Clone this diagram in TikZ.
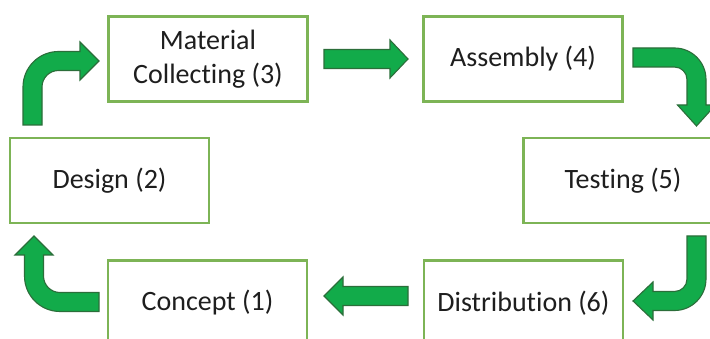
\documentclass[tikz,border=0pt]{standalone}
\usepackage{fontspec}
\setmainfont{Carlito}[Ligatures=NoCommon]
\definecolor{boxgreen}{HTML}{7DB456}
\definecolor{arrowfill}{HTML}{12AB4A}
\definecolor{arrowline}{HTML}{2B6E3A}
\definecolor{txt}{HTML}{1E1E1E}
\begin{document}
\begin{tikzpicture}[x=1pt,y=-1pt,
  stage/.style={draw=boxgreen, line width=2.5pt, fill=white, minimum width=199pt, minimum height=85pt,
    inner sep=0pt, align=center, text=txt, font=\fontsize{28}{34}\selectfont},
  bigarrow/.style={fill=arrowfill, draw=arrowline, line width=1.1pt, line join=miter}]
\useasboundingbox (0,0) rectangle (710,339);
\clip (0,0) rectangle (710,339);
\fill[white] (0,0) rectangle (710,339);
% stages
\node[stage] (mat) at (208,59) {Material\\Collecting (3)};
\node[stage] (asm) at (523,59) {Assembly (4)};
\node[stage] (des) at (109.5,180.5) {Design (2)};
\node[stage] (tst) at (623,180.5) {Testing (5)};
\node[stage] (con) at (207.5,303) {Concept (1)};
\node[stage] (dis) at (523.5,303) {Distribution (6)};
% arrow Design -> Material
\draw[bigarrow] (23,125) -- (23,87) arc[start angle=180, end angle=270, radius=35.5]
  -- (80,51.5) -- (80,42) -- (99,61) -- (80,80) -- (80,70.5) -- (58.5,70.5)
  arc[start angle=270, end angle=180, radius=16.5] -- (42,125) -- cycle;
% arrow Material -> Assembly
\draw[bigarrow] (324,49.5) -- (390,49.5) -- (390,40) -- (408,59) -- (390,78) -- (390,68.5) -- (324,68.5) -- cycle;
% arrow Assembly -> Testing
\draw[bigarrow] (633,48) -- (674.5,48) arc[start angle=270, end angle=360, radius=31.5]
  -- (706,105) -- (715.5,105) -- (696.5,126) -- (677.5,105) -- (687,105) -- (687,79.5)
  arc[start angle=0, end angle=-90, radius=12.5] -- (633,67) -- cycle;
% arrow Testing -> Distribution
\draw[bigarrow] (687,236) -- (706,236) -- (706,279) arc[start angle=0, end angle=90, radius=31.5]
  -- (653,310.5) -- (653,320) -- (633,301) -- (653,282) -- (653,291.5) -- (674.5,291.5)
  arc[start angle=90, end angle=0, radius=12.5] -- cycle;
% arrow Distribution -> Concept
\draw[bigarrow] (408,286.5) -- (343,286.5) -- (343,277) -- (324,296) -- (343,315) -- (343,305.5) -- (408,305.5) -- cycle;
% arrow Concept -> Design
\draw[bigarrow] (99,292.5) -- (60,292.5) arc[start angle=90, end angle=180, radius=16.5]
  -- (43.5,255) -- (53,255) -- (34,236) -- (15,255) -- (24.5,255) -- (24.5,276)
  arc[start angle=180, end angle=90, radius=35.5] -- (99,311.5) -- cycle;
\end{tikzpicture}
\end{document}
